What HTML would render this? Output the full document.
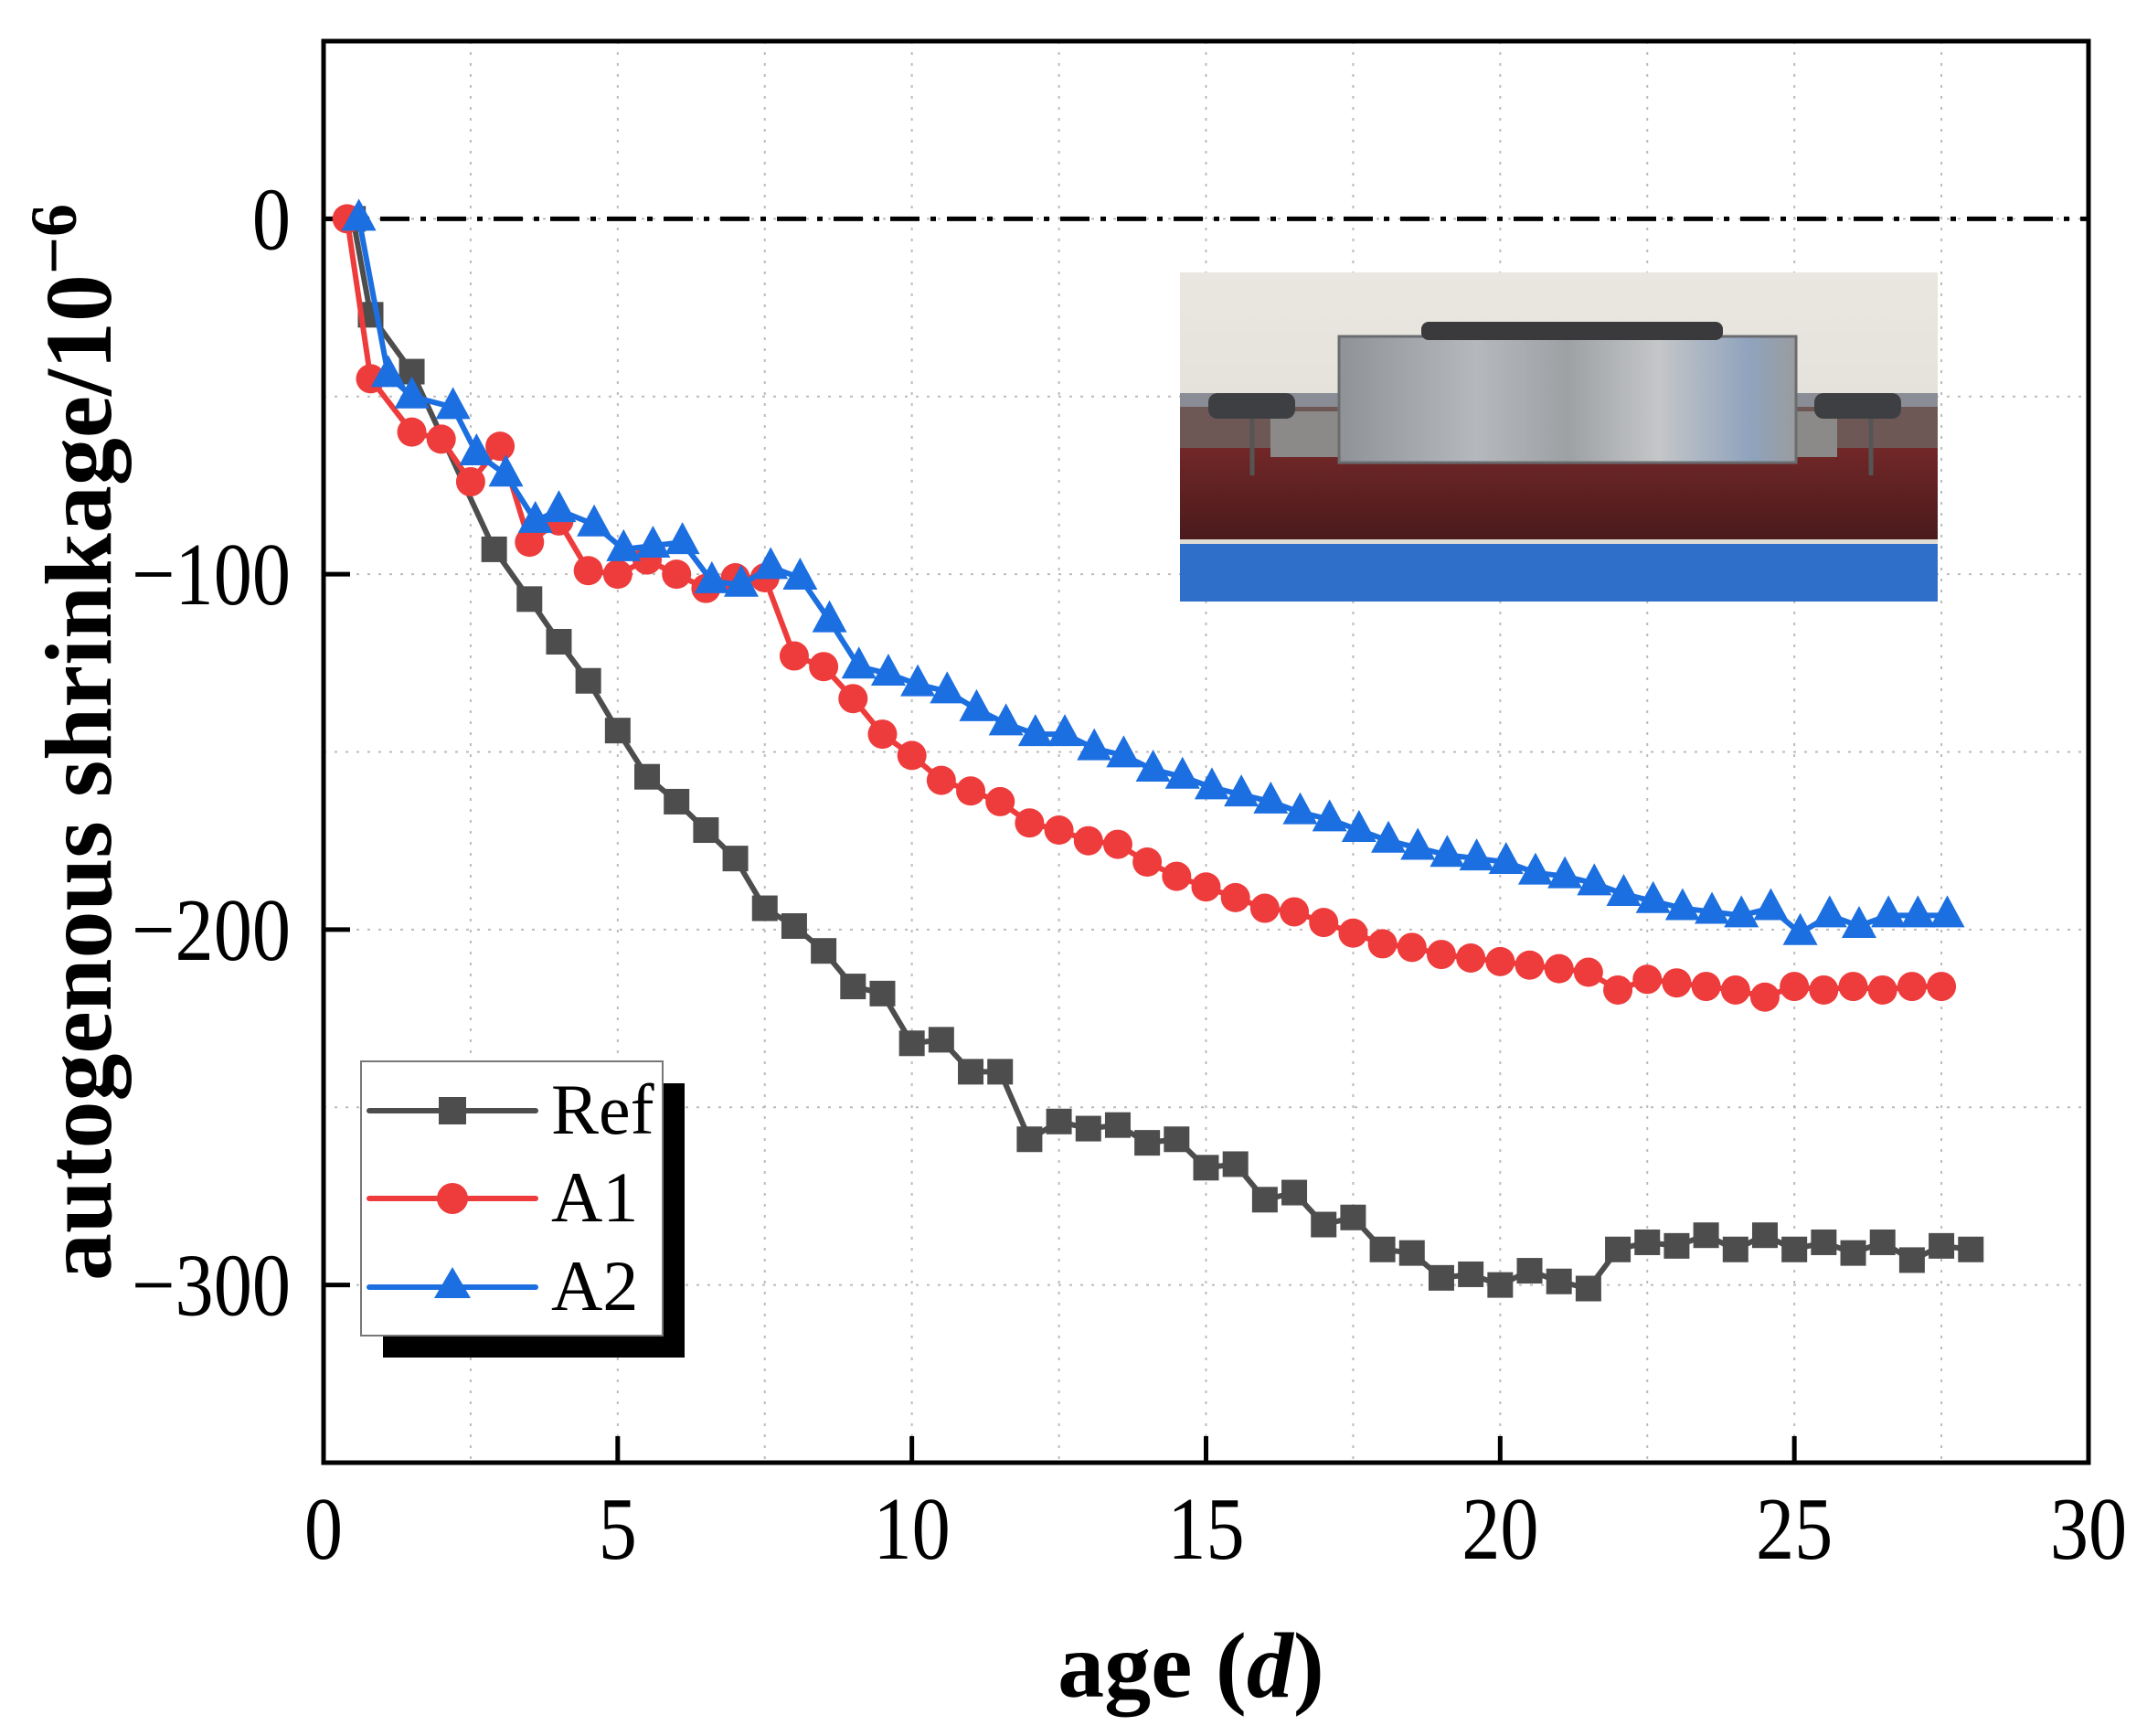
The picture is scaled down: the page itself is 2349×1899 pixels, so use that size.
<!DOCTYPE html>
<html><head><meta charset="utf-8"><style>
html,body{margin:0;padding:0;background:#fff;}
svg{display:block;font-family:"Liberation Serif",serif;}
</style></head><body>
<svg id="chart" width="2349" height="1899" viewBox="0 0 2349 1899" xmlns="http://www.w3.org/2000/svg">
<defs>
<linearGradient id="wall" x1="0" y1="0" x2="0" y2="1"><stop offset="0" stop-color="#e9e7df"/><stop offset="1" stop-color="#dcdad3"/></linearGradient>
<linearGradient id="block" x1="0" y1="0" x2="1" y2="0"><stop offset="0" stop-color="#8f9296"/><stop offset="0.3" stop-color="#b5b8bc"/><stop offset="0.5" stop-color="#9ea1a4"/><stop offset="0.7" stop-color="#c4c6c8"/><stop offset="0.9" stop-color="#8fa3bd"/><stop offset="1" stop-color="#9a9c9f"/></linearGradient>
<linearGradient id="base" x1="0" y1="0" x2="0" y2="1"><stop offset="0" stop-color="#7a2a2a"/><stop offset="1" stop-color="#4a1a1c"/></linearGradient>
</defs>
<g id="grid"></g>
<g id="inset">
 <rect x="1291" y="298" width="829" height="360" fill="url(#wall)"/>
 <rect x="1291" y="430" width="829" height="80" fill="#8a8d95"/>
 <rect x="1291" y="470" width="829" height="120" fill="url(#base)"/>
 <rect x="1291" y="445" width="829" height="45" fill="#6e5856"/>
 <rect x="1291" y="595" width="829" height="63" fill="#2f6fc9"/>
 <rect x="1390" y="450" width="620" height="50" fill="#8b8a88"/>
 <rect x="1465" y="368" width="500" height="138" fill="url(#block)" stroke="#6a6c70" stroke-width="3"/>
 <rect x="1555" y="352" width="330" height="20" rx="8" fill="#3a3a3c"/>
 <rect x="1322" y="430" width="95" height="28" rx="10" fill="#3d3f43"/>
 <rect x="1985" y="430" width="95" height="28" rx="10" fill="#3d3f43"/>
 <line x1="1370" y1="458" x2="1370" y2="520" stroke="#555" stroke-width="5"/>
 <line x1="2047" y1="458" x2="2047" y2="520" stroke="#555" stroke-width="5"/>
</g>
<rect x="354" y="45" width="1931" height="1555" fill="none" stroke="#000" stroke-width="5"/>
<line id="zeroline" stroke="#000" stroke-width="5" stroke-dasharray="32,12,6,12"/>
<g id="ticks"></g>
<g id="series"></g>
<g id="legend">
 <rect x="419" y="1185" width="330" height="300" fill="#000"/>
 <rect x="395" y="1161" width="330" height="300" fill="#fff" stroke="#777" stroke-width="2"/>
 <g>
  <line x1="404" y1="1215" x2="586" y2="1215" stroke="#4d4d4d" stroke-width="6" stroke-linecap="round"/>
  <rect x="480" y="1200" width="30" height="30" fill="#4d4d4d"/>
  <text x="603" y="1240" font-size="78">Ref</text>
 </g>
 <g>
  <line x1="404" y1="1311" x2="586" y2="1311" stroke="#ee3b3b" stroke-width="6" stroke-linecap="round"/>
  <circle cx="495" cy="1311" r="17" fill="#ee3b3b"/>
  <text x="603" y="1336" font-size="78">A1</text>
 </g>
 <g>
  <line x1="404" y1="1408" x2="586" y2="1408" stroke="#1c6fe0" stroke-width="6" stroke-linecap="round"/>
  <polygon points="495,1386 515,1420 475,1420" fill="#1c6fe0"/>
  <text x="603" y="1433" font-size="78">A2</text>
 </g>
</g>
<text x="1303" y="1856" font-size="102" font-weight="bold" text-anchor="middle">age (<tspan font-style="italic">d</tspan>)</text>
<text transform="translate(121,812) rotate(-90)" font-size="104" font-weight="bold" text-anchor="middle">autogenous shrinkage/10<tspan dy="-38" font-size="72">−6</tspan></text>
</svg>
<script>
const xTicks=[0,5,10,15,20,25,30];
const yTicks=[0,-100,-200,-300];
const yTickLabels=["0","−100","−200","−300"];
const refX=[0.5,0.8,1.5,2.9,3.5,4,4.5,5,5.5,6,6.5,7,7.5,8,8.5,9,9.5,10,10.5,11,11.5,12,12.5,13,13.5,14,14.5,15,15.5,16,16.5,17,17.5,18,18.5,19,19.5,20,20.5,21,21.5,22,22.5,23,23.5,24,24.5,25,25.5,26,26.5,27,27.5,28];
const refY=[0,-27,-43,-93,-107,-119,-130,-144,-157,-164,-172,-180,-194,-199,-206,-216,-218,-232,-231,-240,-240,-259,-254,-256,-255,-260,-259,-267,-266,-276,-274,-283,-281,-290,-291,-298,-297,-300,-296,-299,-301,-290,-288,-289,-286,-290,-286,-290,-288,-291,-288,-293,-289,-290];
const a1X=[0.4,0.8,1.5,2,2.5,3,3.5,4,4.5,5,5.5,6,6.5,7,7.5,8,8.5,9,9.5,10,10.5,11,11.5,12,12.5,13,13.5,14,14.5,15,15.5,16,16.5,17,17.5,18,18.5,19,19.5,20,20.5,21,21.5,22,22.5,23,23.5,24,24.5,25,25.5,26,26.5,27,27.5];
const a1Y=[0,-45,-60,-62,-74,-64,-91,-85,-99,-100,-96,-100,-104,-101,-101,-123,-126,-135,-145,-151,-158,-161,-164,-170,-172,-175,-176,-181,-185,-188,-191,-194,-195,-198,-201,-204,-205,-207,-208,-209,-210,-211,-212,-217,-214,-215,-216,-217,-219,-216,-217,-216,-217,-216,-216];
const a2X=[0.6,1.1,1.5,2.2,2.6,3.1,3.6,4,4.6,5.1,5.6,6.1,6.6,7.1,7.6,8.1,8.6,9.1,9.6,10.1,10.6,11.1,11.6,12.1,12.6,13.1,13.6,14.1,14.6,15.1,15.6,16.1,16.6,17.1,17.6,18.1,18.6,19.1,19.6,20.1,20.6,21.1,21.6,22.1,22.6,23.1,23.6,24.1,24.6,25.1,25.6,26.1,26.6,27.1,27.6];
const a2Y=[0,-44,-50,-53,-66,-72,-85,-82,-86,-93,-92,-91,-102,-103,-98,-101,-113,-126,-128,-131,-133,-138,-142,-145,-145,-149,-151,-155,-157,-160,-162,-164,-167,-169,-172,-175,-177,-179,-180,-181,-184,-185,-187,-190,-192,-194,-195,-196,-194,-201,-196,-199,-196,-196,-196];

const L=354,R=2285,T=45,B=1600,XMIN=0,XMAX=30,YMIN=-350,YMAX=50;
const FS=98,SQ=0.86;
const sx=v=>L+(v-XMIN)/(XMAX-XMIN)*(R-L);
const sy=v=>B-(v-YMIN)/(YMAX-YMIN)*(B-T);
const NS="http://www.w3.org/2000/svg";
function mk(tag,attrs,parent){const e=document.createElementNS(NS,tag);for(const k in attrs)e.setAttribute(k,attrs[k]);parent.appendChild(e);return e;}
function tw(s){let w=0;for(const c of s)w+=(c==='−'?0.564:0.5);return w*FS*SQ;}
const grid=document.getElementById('grid'),ticks=document.getElementById('ticks'),series=document.getElementById('series');
for(let v=2.5;v<30;v+=2.5){const g=mk('line',{x1:sx(v),x2:sx(v),y1:T,y2:B,stroke:'#bbb','stroke-width':2,'stroke-dasharray':'3,9'},grid);

}
for(let v=-300;v<=0;v+=50){const g=mk('line',{x1:L,x2:R,y1:sy(v),y2:sy(v),stroke:'#bbb','stroke-width':2,'stroke-dasharray':'3,9'},grid);

}
const z=document.getElementById('zeroline');z.setAttribute('x1',L);z.setAttribute('x2',R);z.setAttribute('y1',sy(0));z.setAttribute('y2',sy(0));
xTicks.forEach(v=>{mk('line',{x1:sx(v),x2:sx(v),y1:B,y2:B-29,stroke:'#000','stroke-width':5},ticks);
const s=String(v),w=tw(s);
const t=mk('text',{x:sx(v)-w/2,y:1705,'font-size':FS,textLength:w,lengthAdjust:'spacingAndGlyphs'},ticks);t.textContent=s;

});
yTicks.forEach((v,i)=>{mk('line',{x1:L,x2:L+29,y1:sy(v),y2:sy(v),stroke:'#000','stroke-width':5},ticks);
const s=yTickLabels[i],w=tw(s);
const t=mk('text',{x:318-w,y:sy(v)+33,'font-size':FS,textLength:w,lengthAdjust:'spacingAndGlyphs'},ticks);t.textContent=s;

});
function draw(xs,ys,color,kind,name){
 const g=mk('g',{},series);
 
 
 mk('polyline',{points:xs.map((x,i)=>sx(x)+','+sy(ys[i])).join(' '),fill:'none',stroke:color,'stroke-width':6,'stroke-linejoin':'round'},g);
 xs.forEach((x,i)=>{const cx=sx(x),cy=sy(ys[i]);let m;
  if(kind==='sq')m=mk('rect',{x:cx-14,y:cy-14,width:28,height:28,fill:color},g);
  else if(kind==='c')m=mk('circle',{cx:cx,cy:cy,r:16,fill:color},g);
  else m=mk('polygon',{points:`${cx},${cy-22} ${cx+19},${cy+13} ${cx-19},${cy+13}`,fill:color},g);
  
  });
}
draw(refX,refY,'#4d4d4d','sq','series-ref');
draw(a1X,a1Y,'#ee3b3b','c','series-a1');
draw(a2X,a2Y,'#1c6fe0','t','series-a2');
</script>
</body></html>
